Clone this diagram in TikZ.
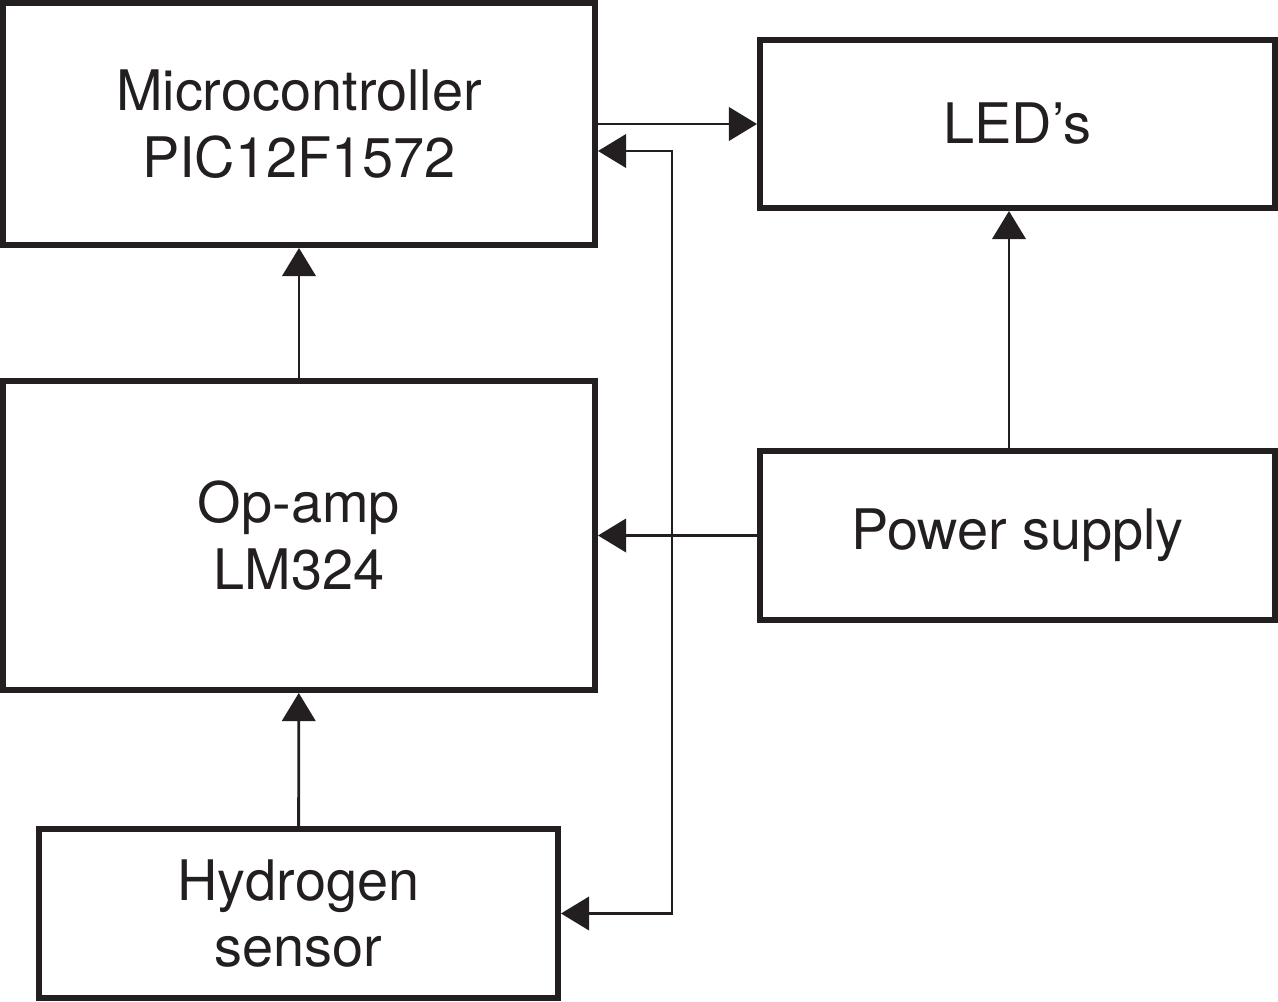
\documentclass[tikz,border=0pt]{standalone}
\usepackage{fontspec}
\setmainfont{TeX Gyre Heros}
\usetikzlibrary{arrows.meta}
\definecolor{ink}{HTML}{231F20}
\begin{document}
\begin{tikzpicture}[
    block/.style={draw=ink,line width=3.4pt,rectangle,align=center,text=ink,
        font=\fontsize{31.8}{38}\selectfont},
    arr/.style={draw=ink,line width=1.6pt,-{Triangle[length=16pt,width=19pt]}},
    arrs/.style={draw=ink,line width=1.6pt,{Triangle[length=16pt,width=19pt]}-{Triangle[length=16pt,width=19pt]}}]
    \useasboundingbox (0,0) rectangle (25.56,-20.04);
    \node[block,minimum width=11.84cm,minimum height=4.84cm] (micro) at (5.98,-2.48) {Microcontroller\\PIC12F1572};
    \node[block,minimum width=10.3cm,minimum height=3.36cm] (leds) at (20.35,-2.48) {LED’s};
    \node[block,minimum width=11.84cm,minimum height=6.18cm] (opamp) at (5.98,-10.71) {Op-amp\\LM324};
    \node[block,minimum width=10.3cm,minimum height=3.38cm] (power) at (20.35,-10.71) {Power supply};
    \node[block,minimum width=10.38cm,minimum height=3.38cm] (hydro) at (5.97,-18.27) {Hydrogen\\sensor};
    \coordinate (bus) at (13.44,-10.71);
    \draw[arr] (micro) -- (leds);
    \draw[arr] ([xshift=-1.7mm]power.north) -- ([xshift=-1.7mm]leds.south);
    \draw[arr] (opamp) -- (micro);
    \draw[arr] (hydro) -- (opamp);
    \draw[arr] (power) -- (opamp);
    \draw[arrs] ([yshift=-5.4mm]micro.east) -| (bus) |- (hydro.east);
\end{tikzpicture}
\end{document}
